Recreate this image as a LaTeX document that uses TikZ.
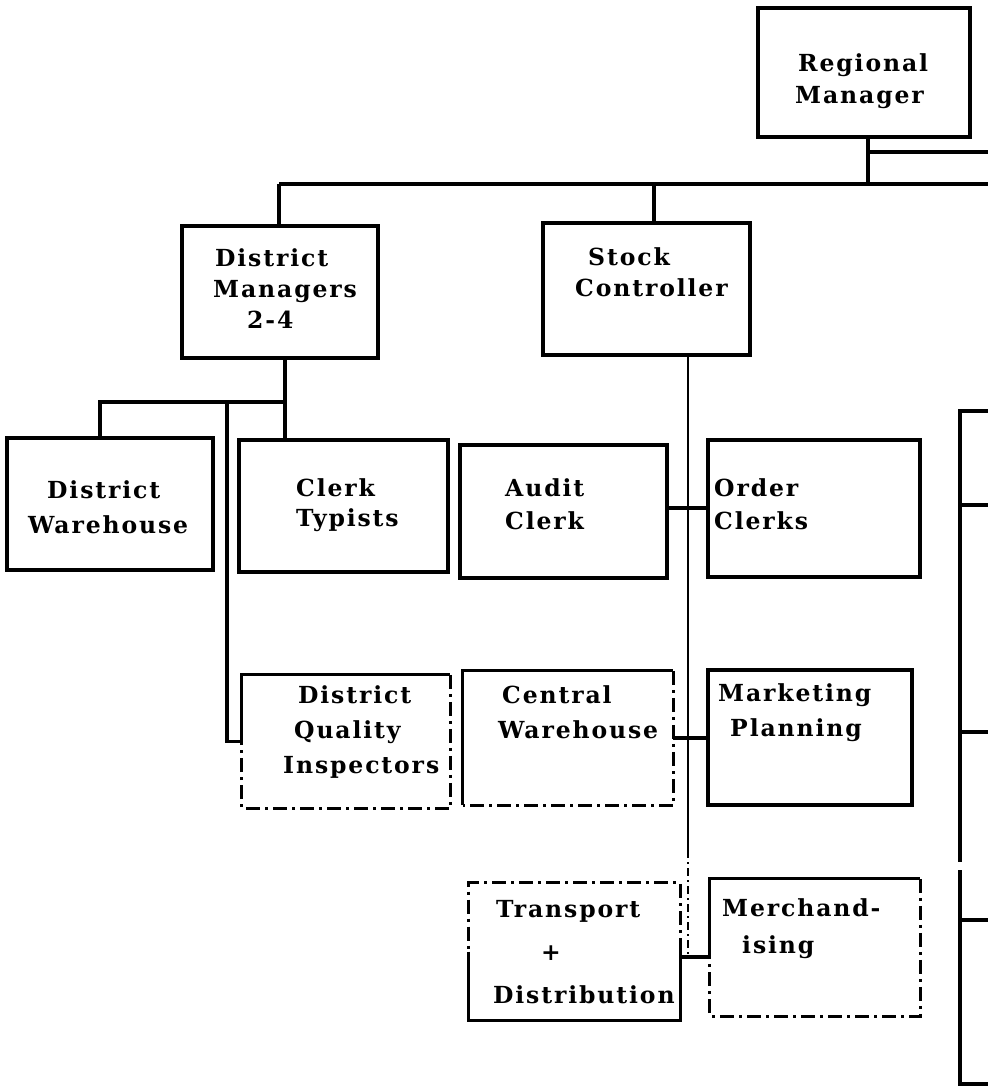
\documentclass[tikz,border=0pt]{standalone}
\usepackage{fontspec}
\setmainfont{DejaVu Serif}[LetterSpace=8]
\usetikzlibrary{fit}
\newcommand\chartfont{\bfseries\fontsize{23.5}{33}\selectfont}
\begin{document}
\begin{tikzpicture}[x=1pt,y=-1pt,
  box/.style={draw, line width=3.3pt, inner sep=0pt},
  frame/.style={draw=none, inner sep=0pt},
  edge/.style={line width=3.3pt},
  brk/.style={line width=3pt, dash pattern=on 14pt off 5pt on 3pt off 5pt},
  link/.style={line width=3.3pt},
  thinlink/.style={line width=2.6pt},
  txt/.style={anchor=north west, align=left, inner sep=0pt, font=\chartfont}]
\useasboundingbox[fill=white] (0,0) rectangle (988,1088);

% ---- boxes ----
\node[box, fit={(758,8) (970,137)}] (rm) {};
\node[box, fit={(182,226) (378,358)}] (dm) {};
\node[box, fit={(543,223) (750,355)}] (sc) {};
\node[box, fit={(7,438) (213,570)}] (dw) {};
\node[box, fit={(239,440) (448,572)}] (ct) {};
\node[box, fit={(460,445) (667,578)}] (ac) {};
\node[box, fit={(708,440) (920,577)}] (oc) {};
\node[frame, fit={(242,675) (450,808)}] (dqi) {};
\node[frame, fit={(463,671) (673,805)}] (cw) {};
\node[box, fit={(708,670) (912,805)}] (mp) {};
\node[frame, fit={(469,883) (680,1020)}] (td) {};
\node[frame, fit={(710,879) (920,1016)}] (me) {};

% partly broken outlines
\draw[edge] (dqi.west) -- (dqi.north west) -- (dqi.north east);
\draw[brk] (dqi.north east) -- (dqi.south east) -- (dqi.south west) -- (dqi.west);
\draw[edge] (cw.south west) -- (cw.north west) -- (cw.north east);
\draw[brk] (cw.north east) -- (cw.south east) -- (cw.south west);
\draw[edge] (td.west) -- (td.south west) -- (td.south east) -- (td.east);
\draw[brk] (td.east) -- (td.north east) -- (td.north west) -- (td.west);
\draw[edge] (me.west) -- (me.north west) -- (me.north east);
\draw[brk] (me.north east) -- (me.south east) -- (me.south west) -- (me.west);

% ---- labels ----
\node[txt] (t-rm) at (795,53) {\hspace*{3pt}Regional\\[-1pt]Manager};
\node[txt] (t-dm) at (213,248) {\hspace*{2pt}District\\[-2pt]Managers\\[-2pt]\hspace*{34pt}2-4};
\node[txt] (t-sc) at (575,247) {\hspace*{13pt}Stock\\[-2pt]Controller};
\node[txt] (t-dw) at (28,480) {\hspace*{19pt}District\\[2pt]Warehouse};
\node[txt] (t-ct) at (296,478) {Clerk\\[-3pt]Typists};
\node[txt] (t-ac) at (505,478) {Audit\\Clerk};
\node[txt] (t-oc) at (714,478) {Order\\Clerks};
\node[txt] (t-dqi) at (283,685) {\hspace*{15pt}District\\[2pt]\hspace*{11pt}Quality\\[2pt]Inspectors};
\node[txt] (t-cw) at (498,685) {\hspace*{4pt}Central\\[2pt]Warehouse};
\node[txt] (t-mp) at (718,683) {Marketing\\[2pt]\hspace*{12pt}Planning};
\node[txt] (t-td) at (493,900) {\hspace*{3pt}Transport\\[10pt]\hspace*{48pt}+\\[10pt]Distribution};
\node[txt] (t-me) at (722,898) {Merchand-\\[4pt]\hspace*{20pt}ising};

% ---- connectors ----
\coordinate (busL) at (279,184);
\coordinate (busR) at (988,184);
\coordinate (rmTap) at (868,184);
\coordinate (scTap) at (654,184);
\coordinate (upL) at (868,152);
\coordinate (upR) at (988,152);
\draw[link] (rm.south -| rmTap) -- (rmTap);
\draw[link] (upL) -- (upR);
\draw[link] (busL) -- (busR);
\draw[link] (busL) -- (busL |- dm.north);
\draw[link] (scTap) -- (scTap |- sc.north);

\coordinate (dmJ) at (285,402);
\coordinate (dwJ) at (100,402);
\coordinate (qJ) at (227,402);
\draw[link] (dm.south -| dmJ) -- (dmJ |- ct.north);
\draw[link] (dmJ) -- (dwJ) -- (dwJ |- dw.north);
\draw[link] (qJ) -- (qJ |- dqi.west) -- (dqi.west);

\coordinate (scS) at (688,850);
\coordinate (scE) at (688,957);
\draw[thinlink] (sc.south -| scS) -- (scS);
\draw[thinlink, dash pattern=on 8pt off 4pt on 2pt off 4pt] (scS) -- (scE);
\coordinate (r1) at (688,508);
\coordinate (r2) at (688,738);
\coordinate (r3) at (688,957);
\draw[link] (r1 -| ac.east) -- (r1 -| oc.west);
\draw[link] (r2 -| cw.east) -- (r2 -| mp.west);
\draw[link] (r3 -| td.east) -- (r3 -| me.west);

% right-hand column, continuing off the sheet
\coordinate (rTR) at (988,411);
\coordinate (rT) at (960,411);
\coordinate (rG1) at (960,862);
\coordinate (rG2) at (960,870);
\coordinate (rB) at (960,1084);
\coordinate (rBR) at (988,1084);
\draw[link] (rTR) -- (rT) -- (rG1);
\draw[link] (rG2) -- (rB) -- (rBR);
\coordinate (s1) at (960,505);
\coordinate (s2) at (960,732);
\coordinate (s3) at (960,920);
\draw[link] (s1) -- (s1 -| rTR);
\draw[link] (s2) -- (s2 -| rTR);
\draw[link] (s3) -- (s3 -| rTR);
\end{tikzpicture}
\end{document}
